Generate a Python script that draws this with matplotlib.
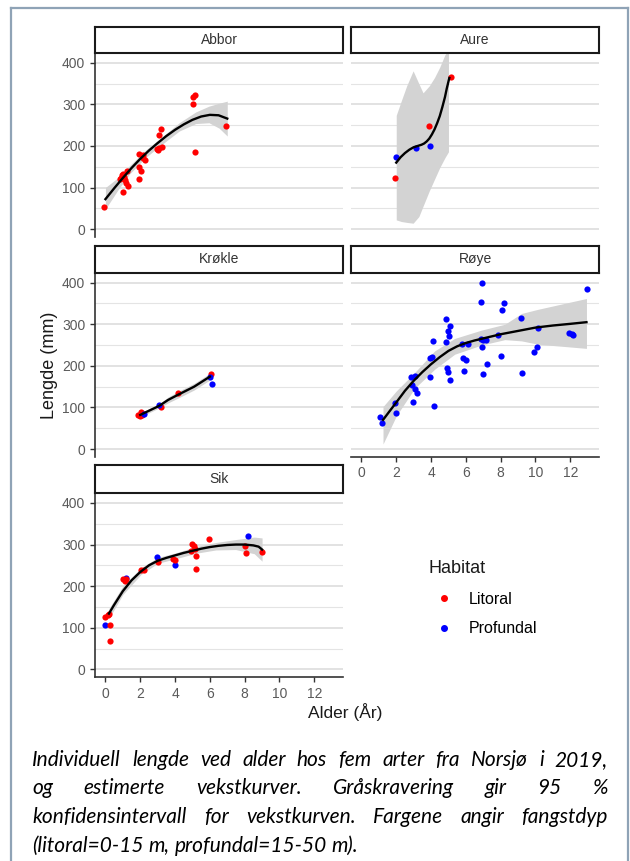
import numpy as np
import matplotlib
matplotlib.use("Agg")
import matplotlib.pyplot as plt
from matplotlib.lines import Line2D

# ---- data ----
abbor_age = [-0.06, 0.84, 0.94, 1.24, 1.0, 1.28, 1.13, 1.09, 0.9, 1.0, 1.18, 1.91, 1.95, 2.03,
             2.13, 2.29, 1.95, 2.15, 3.0, 3.09, 3.24, 3.1, 3.19, 2.97, 5.05, 5.15, 5.04, 5.12, 6.91]
abbor_len = [52, 120, 131, 139, 88, 103, 118, 126, 123, 132, 110, 180, 120, 140,
             178, 166, 150, 172, 191, 194, 198, 226, 240, 193, 318, 322, 302, 185, 248]

aure_lit_age = [1.95, 3.89, 5.17]
aure_lit_len = [122, 248, 366]
aure_pro_age = [2.01, 3.16, 3.93]
aure_pro_len = [174, 196, 200]

krokle_lit_age = [1.89, 2.04, 2.1, 1.97, 3.19, 4.18, 6.05]
krokle_lit_len = [82, 90, 82, 80, 102, 134, 180]
krokle_pro_age = [2.23, 3.09, 6.13, 5.98]
krokle_pro_len = [84, 107, 156, 172]

roye_age = [1.05, 1.18, 1.95, 2.01, 2.87, 3.1, 2.91, 3.06, 3.18, 2.97, 3.93, 4.06, 3.93, 4.14,
            4.17, 4.88, 5.07, 5.0, 5.02, 4.88, 4.9, 4.95, 5.07, 5.8, 6.13, 5.84, 5.98, 5.9,
            6.9, 6.86, 6.86, 7.0, 7.13, 6.93, 7.24, 6.99, 7.85, 8.04, 8.18, 8.1, 9.14, 9.2,
            9.9, 10.06, 10.17, 11.91, 12.07, 12.18, 12.97]
roye_len = [76, 62, 111, 87, 174, 176, 154, 144, 134, 114, 220, 222, 172, 260,
            103, 312, 297, 284, 272, 258, 196, 186, 166, 253, 253, 220, 214, 188,
            400, 354, 264, 262, 262, 246, 204, 180, 274, 224, 352, 334, 314, 182,
            234, 246, 292, 280, 276, 275, 386]

sik_pro_age = [-0.02, 1.18, 2.94, 4.0, 8.2]
sik_pro_len = [106, 220, 270, 252, 320]
sik_lit_age = [0.27, 0.27, 0.0, 0.13, 0.23, 1.0, 1.1, 1.2, 2.04, 2.23, 3.0, 3.9, 3.97,
               5.0, 5.1, 4.9, 5.15, 5.19, 5.19, 5.95, 8.01, 8.05, 8.97]
sik_lit_len = [106, 68, 126, 130, 134, 216, 212, 218, 240, 238, 258, 266, 262,
               302, 296, 284, 290, 272, 242, 314, 296, 280, 283]

# growth curves (line) and 95 % band
abbor_fx = [0.0, 0.5, 1.0, 1.5, 2.0, 2.5, 3.0, 3.5, 4.0, 4.5, 5.0, 5.5, 6.0, 6.5, 7.0]
abbor_fit = [72, 98, 123, 147, 169, 189, 207, 224, 239, 252, 263, 271, 275, 274, 266]
abbor_bx = [0.0, 0.7, 1.37, 2.33, 3.28, 4.24, 5.19, 5.95, 6.53, 7.0]
abbor_lo = [48, 93, 132, 173, 205, 236, 254, 256, 243, 224]
abbor_hi = [100, 123, 152, 191, 223, 256, 282, 296, 303, 308]

aure_fx = [2.0, 2.25, 2.5, 2.75, 3.0, 3.15, 3.3, 3.45, 3.6, 3.75, 3.9, 4.05, 4.2, 4.35,
           4.5, 4.65, 4.8, 4.9, 5.05]
aure_fit = [160, 173, 183, 191, 197, 199, 201, 203, 206, 211, 218, 228, 240, 255,
            272, 294, 318, 338, 364]
aure_bx = [2.0, 2.3, 2.6, 2.97, 3.3, 3.54, 3.9, 4.2, 4.5, 4.8, 5.0]
aure_lo = [22, 18, 16, 14, 30, 55, 92, 120, 148, 172, 186]
aure_hi = [274, 310, 345, 381, 350, 328, 345, 365, 390, 420, 430]

krokle_fx = [2.0, 2.5, 3.1, 3.6, 4.15, 5.1, 6.0]
krokle_fit = [82, 92, 104, 118, 130, 150, 174]
krokle_lo = [77, 87, 99, 111, 122, 142, 166]
krokle_hi = [87, 97, 109, 125, 138, 158, 182]

roye_fx = [1.24, 1.6, 2.0, 2.5, 3.0, 3.5, 4.0, 4.5, 5.0, 5.5, 6.0, 6.5, 7.0, 8.0, 9.0,
           10.0, 11.0, 12.0, 12.93]
roye_fit = [70, 90, 112, 140, 164, 185, 204, 221, 236, 247, 255, 261, 266, 276, 284,
            292, 297, 301, 305]
roye_bx = [1.24, 2.01, 3.06, 4.21, 5.36, 6.9, 8.24, 9.2, 10.15, 12.93]
roye_lo = [12, 80, 146, 192, 228, 250, 263, 260, 252, 242]
roye_hi = [102, 140, 184, 236, 266, 286, 300, 326, 336, 362]

sik_fx = [0.2, 0.5, 1.0, 1.5, 2.0, 2.5, 3.0, 3.5, 4.0, 4.5, 5.0, 5.5, 6.0, 6.5, 7.0,
          7.5, 8.0, 8.5, 8.8, 9.0]
sik_fit = [134, 155, 188, 214, 234, 250, 261, 268, 274, 280, 285, 290, 294, 297, 299,
           300, 300, 298, 295, 288]
sik_bx = [0.2, 1.0, 2.04, 3.0, 3.95, 5.19, 6.34, 7.48, 8.55, 9.0]
sik_lo = [122, 180, 228, 255, 265, 279, 287, 288, 278, 260]
sik_hi = [146, 200, 244, 269, 279, 295, 305, 312, 318, 316]

RED, BLUE = "#ff0000", "#0000ff"

panels = [
    ("Abbor", 0, 0, [(abbor_age, abbor_len, RED)],
     (abbor_fx, abbor_fit, abbor_bx, abbor_lo, abbor_hi)),
    ("Aure", 1, 0, [(aure_lit_age, aure_lit_len, RED), (aure_pro_age, aure_pro_len, BLUE)],
     (aure_fx, aure_fit, aure_bx, aure_lo, aure_hi)),
    ("Krøkle", 0, 1, [(krokle_lit_age, krokle_lit_len, RED), (krokle_pro_age, krokle_pro_len, BLUE)],
     (krokle_fx, krokle_fit, krokle_fx, krokle_lo, krokle_hi)),
    ("Røye", 1, 1, [(roye_age, roye_len, BLUE)],
     (roye_fx, roye_fit, roye_bx, roye_lo, roye_hi)),
    ("Sik", 0, 2, [(sik_pro_age, sik_pro_len, BLUE), (sik_lit_age, sik_lit_len, RED)],
     (sik_fx, sik_fit, sik_bx, sik_lo, sik_hi)),
]

W, H = 630, 861
fig = plt.figure(figsize=(W / 100, H / 100), dpi=100)
plt.rcParams['font.family'] = ['Liberation Sans', 'DejaVu Sans']


def px_axes(x0, y0, x1, y1):
    return fig.add_axes([x0 / W, 1 - y1 / H, (x1 - x0) / W, (y1 - y0) / H])


col_x = [(95, 343), (351, 599)]
row_y = [(27, 53, 236.7), (246, 272.7, 456.7), (465, 493, 677)]
bottom_panels = ("Sik", "Røye")

for name, c, r, series, curve in panels:
    x0, x1 = col_x[c]
    st, pt, pb = row_y[r]
    ax = px_axes(x0, pt, x1, pb)
    fx, fit, bx, lo, hi = curve
    ax.fill_between(bx, lo, hi, color="#d3d3d3", lw=0, zorder=2)
    for xs, ys, col in series:
        ax.scatter(xs, ys, s=20, color=col, lw=0, zorder=3)
    ax.plot(fx, fit, color="black", lw=1.7, zorder=4)
    ax.set_xlim(-0.6, 13.65)
    ax.set_ylim(-18.5, 424)
    ax.set_yticks([0, 100, 200, 300, 400])
    ax.set_yticks([50, 150, 250, 350], minor=True)
    ax.set_xticks([0, 2, 4, 6, 8, 10, 12])
    ax.grid(axis="y", which="major", color="#dadada", lw=1.1)
    ax.grid(axis="y", which="minor", color="#e4e4e4", lw=0.8)
    ax.set_axisbelow(True)
    for s in ax.spines.values():
        s.set_visible(False)
    ax.tick_params(which="minor", left=False, bottom=False)
    ax.tick_params(axis="both", colors="#333333", labelcolor="#5a5a5a",
                   labelsize=10, length=3.5, width=1)
    if c == 0:
        ax.spines["left"].set_visible(True)
        ax.spines["left"].set_color("#333333")
        ax.spines["left"].set_linewidth(1.2)
    else:
        ax.tick_params(axis="y", left=False, labelleft=False)
    if name in bottom_panels:
        ax.spines["bottom"].set_visible(True)
        ax.spines["bottom"].set_color("#333333")
        ax.spines["bottom"].set_linewidth(1.2)
    else:
        ax.tick_params(axis="x", bottom=False, labelbottom=False)

    sax = px_axes(x0, st, x1, pt)
    sax.set_xticks([])
    sax.set_yticks([])
    for s in sax.spines.values():
        s.set_color("#1a1a1a")
        s.set_linewidth(1.5)
    sax.text(0.5, 0.5, name, ha="center", va="center", fontsize=10, color="#333333",
             transform=sax.transAxes)

fig.text(49 / W, 1 - 365 / H, "Lengde (mm)", rotation=90, ha="center", va="center",
         fontsize=13, color="#1a1a1a")
fig.text(345 / W, 1 - 712 / H, "Alder (År)", ha="center", va="center",
         fontsize=12.5, color="#1a1a1a")

handles = [Line2D([], [], ls="", marker="o", ms=4, color=RED),
           Line2D([], [], ls="", marker="o", ms=4, color=BLUE)]
leg = fig.legend(handles, ["Litoral", "Profundal"], title="Habitat", frameon=False,
                 loc="upper left", bbox_to_anchor=(414 / W, 1 - 546 / H),
                 fontsize=11.5, title_fontsize=13, labelspacing=0.9,
                 handletextpad=0.5, alignment="left")
leg.get_title().set_color("#1a1a1a")

# frame around figure + caption
for xs, ys in [([11, 11], [8, H + 5]), ([11, 628], [8, 8]), ([628, 628], [8, H + 5])]:
    fig.add_artist(Line2D([x / W for x in xs], [1 - y / H for y in ys], color="#8fa3b6",
                          lw=1.6, transform=fig.transFigure))

caption = [
    "Individuell lengde ved alder hos fem arter fra Norsjø i 2019,",
    "og estimerte vekstkurver. Gråskravering gir 95 %",
    "konfidensintervall for vekstkurven. Fargene angir fangstdyp",
    "(litoral=0-15 m, profundal=15-50 m).",
]
cap_y = [760, 788.5, 817, 845.5]
cap_left, cap_right = 32, 608
renderer = fig.canvas.get_renderer()
for i, (line, yy) in enumerate(zip(caption, cap_y)):
    words = line.split(" ")
    texts = [fig.text(0, 1 - yy / H, w, fontsize=15, style="italic", family="Lato",
                      color="black", va="center", ha="left") for w in words]
    widths = [t.get_window_extent(renderer).width for t in texts]
    if i < len(caption) - 1:
        gap = (cap_right - cap_left - sum(widths)) / (len(words) - 1)
    else:
        gap = 5
    x = cap_left
    for t, w in zip(texts, widths):
        t.set_x(x / W)
        x += w + gap

fig.savefig("out.png", dpi=100)
